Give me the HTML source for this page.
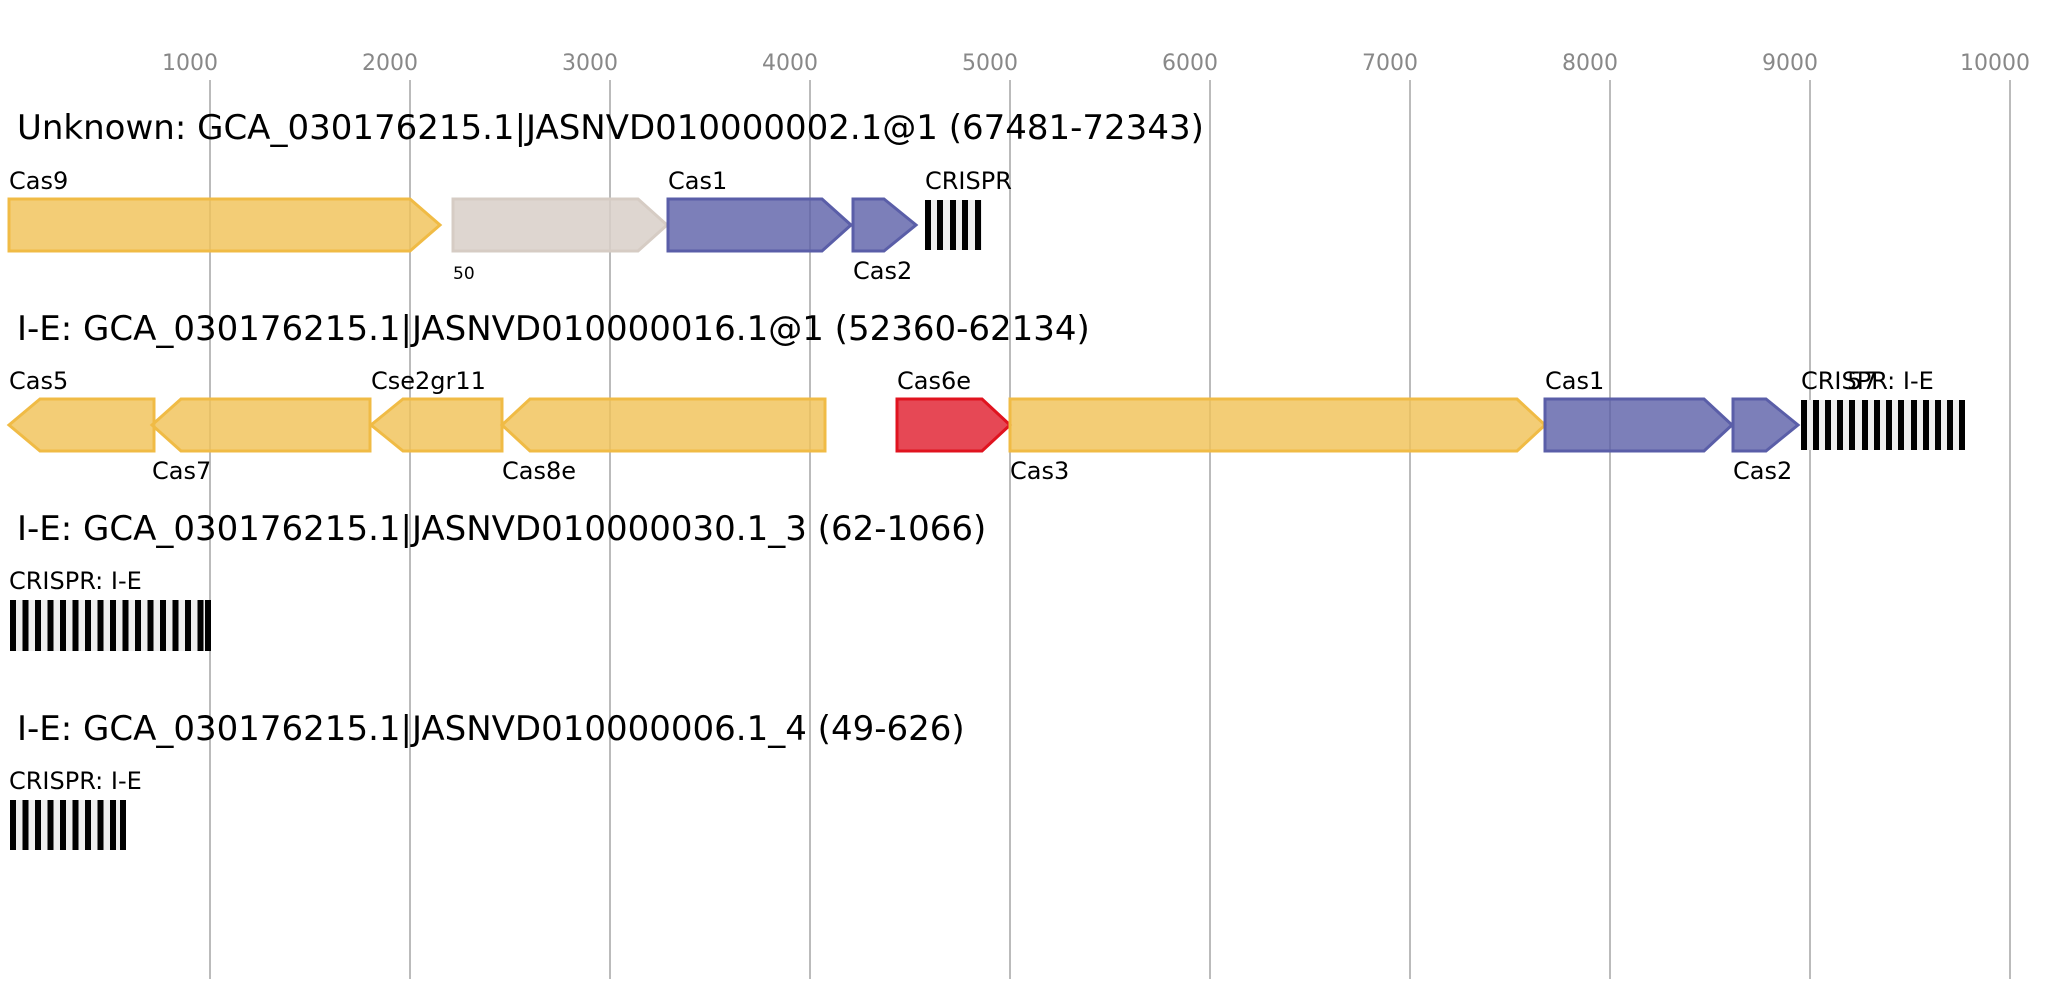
<!DOCTYPE html>
<html><head><meta charset="utf-8"><style>
html,body{margin:0;padding:0;background:#fff;width:2055px;height:1000px;overflow:hidden}
text{font-family:"DejaVu Sans","Liberation Sans",sans-serif}
.t{font-size:22px;fill:#888;text-anchor:middle}
.h{font-size:34px;fill:#000}
.l{font-size:24px;fill:#000}
.y{fill:#f0c258;fill-opacity:0.82;stroke:#f0bb45;stroke-width:3}
.g{fill:#d8cfc8;fill-opacity:0.85;stroke:#d6ccc4;stroke-width:3}
.b{fill:#5b5fa8;fill-opacity:0.8;stroke:#5a5ea8;stroke-width:3}
.r{fill:#e0202f;fill-opacity:0.82;stroke:#e0131f;stroke-width:3}
</style></head><body>
<svg width="2055" height="1000" xmlns="http://www.w3.org/2000/svg">
<g stroke="#bbb" stroke-width="2">
<line x1="210" y1="80" x2="210" y2="979"/><line x1="410" y1="80" x2="410" y2="979"/>
<line x1="610" y1="80" x2="610" y2="979"/><line x1="810" y1="80" x2="810" y2="979"/>
<line x1="1010" y1="80" x2="1010" y2="979"/><line x1="1210" y1="80" x2="1210" y2="979"/>
<line x1="1410" y1="80" x2="1410" y2="979"/><line x1="1610" y1="80" x2="1610" y2="979"/>
<line x1="1810" y1="80" x2="1810" y2="979"/><line x1="2010" y1="80" x2="2010" y2="979"/>
</g>
<text class="t" x="190" y="70">1000</text><text class="t" x="390" y="70">2000</text>
<text class="t" x="590" y="70">3000</text><text class="t" x="790" y="70">4000</text>
<text class="t" x="990" y="70">5000</text><text class="t" x="1190" y="70">6000</text>
<text class="t" x="1390" y="70">7000</text><text class="t" x="1590" y="70">8000</text>
<text class="t" x="1790" y="70">9000</text><text class="t" x="1995" y="70">10000</text>

<!-- Row 1 -->
<text class="h" x="17" y="139">Unknown: GCA_030176215.1|JASNVD010000002.1@1 (67481-72343)</text>
<polygon class="y" points="9,199 410,199 440,225 410,251 9,251"/>
<text class="l" x="9" y="189">Cas9</text>
<polygon class="g" points="453,199 638,199 667,225 638,251 453,251"/>
<text x="453" y="279" style="font-size:17px">50</text>
<polygon class="b" points="668,199 822,199 851,225 822,251 668,251"/>
<text class="l" x="668" y="189">Cas1</text>
<polygon class="b" points="853,199 884,199 916,225 884,251 853,251"/>
<text class="l" x="853" y="279">Cas2</text>
<rect x="925" y="200" width="57" height="50" fill="#eee"/>
<g fill="#000"><rect x="925" y="200" width="6" height="50"/><rect x="937" y="200" width="6" height="50"/><rect x="950" y="200" width="6" height="50"/><rect x="962" y="200" width="6" height="50"/><rect x="975" y="200" width="6" height="50"/></g>
<text class="l" x="925" y="189">CRISPR</text>

<!-- Row 2 -->
<text class="h" x="17" y="340">I-E: GCA_030176215.1|JASNVD010000016.1@1 (52360-62134)</text>
<polygon class="y" points="9,425 40,399 154,399 154,451 40,451"/>
<text class="l" x="9" y="389">Cas5</text>
<polygon class="y" points="152,425 181,399 370,399 370,451 181,451"/>
<text class="l" x="152" y="479">Cas7</text>
<polygon class="y" points="371,425 403,399 502,399 502,451 403,451"/>
<text class="l" x="371" y="389">Cse2gr11</text>
<polygon class="y" points="502,425 530,399 825,399 825,451 530,451"/>
<text class="l" x="502" y="479">Cas8e</text>
<polygon class="r" points="897,399 982,399 1010,425 982,451 897,451"/>
<text class="l" x="897" y="389">Cas6e</text>
<polygon class="y" points="1010,399 1517,399 1545,425 1517,451 1010,451"/>
<text class="l" x="1010" y="479">Cas3</text>
<polygon class="b" points="1545,399 1704,399 1732,425 1704,451 1545,451"/>
<text class="l" x="1545" y="389">Cas1</text>
<polygon class="b" points="1733,399 1766,399 1798,425 1766,451 1733,451"/>
<text class="l" x="1733" y="479">Cas2</text>
<rect x="1801" y="400" width="164" height="50" fill="#eee"/>
<g fill="#000">
<rect x="1801" y="400" width="6" height="50"/><rect x="1813" y="400" width="6" height="50"/><rect x="1825" y="400" width="6" height="50"/><rect x="1837" y="400" width="6" height="50"/><rect x="1849" y="400" width="6" height="50"/><rect x="1862" y="400" width="6" height="50"/><rect x="1874" y="400" width="6" height="50"/><rect x="1886" y="400" width="6" height="50"/><rect x="1898" y="400" width="6" height="50"/><rect x="1911" y="400" width="6" height="50"/><rect x="1923" y="400" width="6" height="50"/><rect x="1935" y="400" width="6" height="50"/><rect x="1947" y="400" width="6" height="50"/><rect x="1959" y="400" width="6" height="50"/>
</g>
<text class="l" x="1801" y="389">CRISPR: I-E</text>
<text class="l" x="1847" y="389">57</text>

<!-- Row 3 -->
<text class="h" x="17" y="540">I-E: GCA_030176215.1|JASNVD010000030.1_3 (62-1066)</text>
<text class="l" x="9" y="589">CRISPR: I-E</text>
<rect x="10" y="600" width="201" height="51" fill="#eee"/>
<g fill="#000">
<rect x="10" y="600" width="6" height="51"/><rect x="22.5" y="600" width="6" height="51"/><rect x="35" y="600" width="6" height="51"/><rect x="47.5" y="600" width="6" height="51"/><rect x="60" y="600" width="6" height="51"/><rect x="72.5" y="600" width="6" height="51"/><rect x="85" y="600" width="6" height="51"/><rect x="97.5" y="600" width="6" height="51"/><rect x="110" y="600" width="6" height="51"/><rect x="122.5" y="600" width="6" height="51"/><rect x="135" y="600" width="6" height="51"/><rect x="147.5" y="600" width="6" height="51"/><rect x="160" y="600" width="6" height="51"/><rect x="172.5" y="600" width="6" height="51"/><rect x="185" y="600" width="6" height="51"/><rect x="197.5" y="600" width="6" height="51"/><rect x="205" y="600" width="6" height="51"/>
</g>

<!-- Row 4 -->
<text class="h" x="17" y="740">I-E: GCA_030176215.1|JASNVD010000006.1_4 (49-626)</text>
<text class="l" x="9" y="789">CRISPR: I-E</text>
<rect x="10" y="800" width="116" height="50" fill="#eee"/>
<g fill="#000">
<rect x="10" y="800" width="6" height="50"/><rect x="22.5" y="800" width="6" height="50"/><rect x="35" y="800" width="6" height="50"/><rect x="47.5" y="800" width="6" height="50"/><rect x="60" y="800" width="6" height="50"/><rect x="72.5" y="800" width="6" height="50"/><rect x="85" y="800" width="6" height="50"/><rect x="97.5" y="800" width="6" height="50"/><rect x="110" y="800" width="6" height="50"/><rect x="120" y="800" width="6" height="50"/>
</g>
</svg>
</body></html>
